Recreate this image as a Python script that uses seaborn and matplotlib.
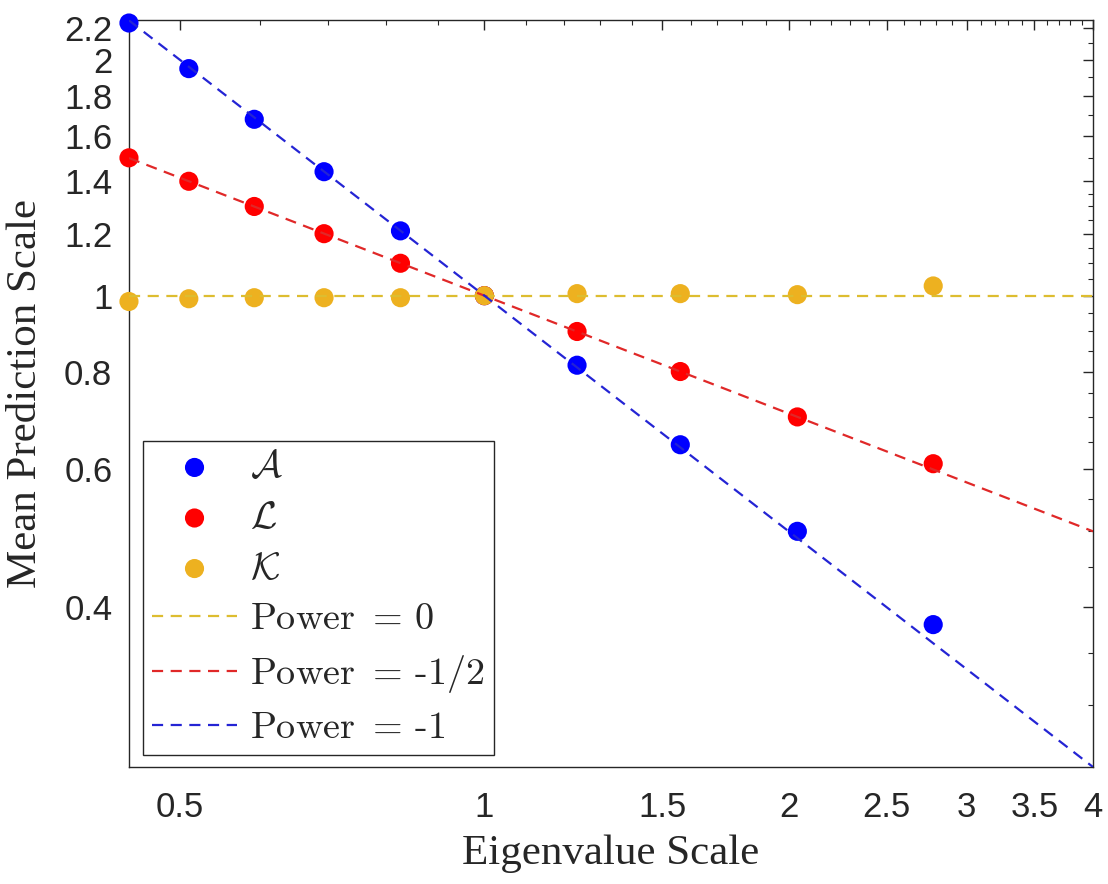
import numpy as np
import pandas as pd
import matplotlib
matplotlib.use("Agg")
import matplotlib.pyplot as plt
from matplotlib.ticker import FixedLocator, FixedFormatter, NullFormatter
import seaborn as sns

# ---- data ----
eig_scale = [0.445, 0.51, 0.592, 0.694, 0.826, 1.0, 1.235, 1.5625, 2.04, 2.78]
series_A = [2.23, 1.95, 1.68, 1.44, 1.21, 1.0, 0.815, 0.645, 0.50, 0.38]
series_L = [1.50, 1.40, 1.30, 1.20, 1.10, 1.0, 0.90, 0.80, 0.70, 0.61]
series_K = [0.983, 0.991, 0.994, 0.994, 0.994, 1.0, 1.006, 1.006, 1.003, 1.029]
series_labels = [r"$\mathcal{A}$", r"$\mathcal{L}$", r"$\mathcal{K}$"]

line_x = [0.445, 4.0]
powers = [0.0, -0.5, -1.0]
power_values = ["0", "-1/2", "-1"]

x_major = [0.5, 1, 1.5, 2, 2.5, 3, 3.5, 4]
x_major_labels = ["0.5", "1", "1.5", "2", "2.5", "3", "3.5", "4"]
y_major = [0.4, 0.6, 0.8, 1.0, 1.2, 1.4, 1.6, 1.8, 2.0, 2.2]
y_major_labels = ["0.4", "0.6", "0.8", "1", "1.2", "1.4", "1.6", "1.8", "2", "2.2"]

# ---- style ----
sns.set_theme(style="white")
plt.rcParams["font.family"] = ["Liberation Sans", "DejaVu Sans"]
plt.rcParams["mathtext.fontset"] = "cm"
plt.rcParams["axes.unicode_minus"] = False

marker_colors = ["#0000FF", "#FF0000", "#EDB120"]
line_colors = ["#DDBD30", "#E02828", "#2424D4"]
ink = "#262626"

fig = plt.figure(figsize=(11.08, 8.84), dpi=100)
ax = fig.add_axes([0.1164, 0.1324, 0.870, 0.845])

for ys, col, lab in zip([series_A, series_L, series_K], marker_colors, series_labels):
    df = pd.DataFrame({"x": eig_scale, "y": ys})
    sns.scatterplot(data=df, x="x", y="y", ax=ax, color=col, s=190,
                    edgecolor="none", linewidth=0, label=lab, zorder=3,
                    clip_on=False)

lx = np.array(line_x)
for p, col, val in zip(powers, line_colors, power_values):
    df = pd.DataFrame({"x": lx, "y": lx ** p})
    sns.lineplot(data=df, x="x", y="y", ax=ax, color=col, lw=1.6,
                 label=r"$\mathrm{Power}\ =\,$" + val, zorder=4)

for line in ax.get_lines():
    line.set_dashes((5.0, 3.4))

ax.set_xscale("log")
ax.set_yscale("log")
ax.set_xlim(line_x[0], line_x[1])
ax.set_ylim(0.25, 2.25)

ax.xaxis.set_major_locator(FixedLocator(x_major))
ax.xaxis.set_major_formatter(FixedFormatter(x_major_labels))
x_minor = [round(v, 1) for v in np.arange(0.5, 4.01, 0.1)
           if all(abs(v - m) > 1e-6 for m in x_major)]
ax.xaxis.set_minor_locator(FixedLocator(x_minor))
ax.xaxis.set_minor_formatter(NullFormatter())

ax.yaxis.set_major_locator(FixedLocator(y_major))
ax.yaxis.set_major_formatter(FixedFormatter(y_major_labels))
y_minor = [0.3, 0.35, 0.45, 0.5, 0.55, 0.65, 0.7, 0.75, 0.85, 0.9, 0.95,
           1.05, 1.1, 1.15, 1.25, 1.3, 1.35, 1.5, 1.7, 1.9, 2.1]
ax.yaxis.set_minor_locator(FixedLocator(y_minor))
ax.yaxis.set_minor_formatter(NullFormatter())

ax.tick_params(which="both", direction="in", top=True, right=True,
               colors=ink, labelcolor=ink)
ax.tick_params(which="major", length=7, width=1, labelsize=25)
ax.tick_params(axis="x", which="major", pad=17)
ax.tick_params(axis="y", which="major", pad=12)
ax.tick_params(which="minor", length=3.5, width=0.8)

for s in ax.spines.values():
    s.set_color(ink)
    s.set_linewidth(1.0)

ax.set_xlabel("Eigenvalue Scale", family=["Liberation Serif"], fontsize=31,
              color=ink, labelpad=8)
ax.set_ylabel("Mean Prediction Scale", family=["Liberation Serif"], fontsize=31,
              color=ink, labelpad=14)

handles, labels = ax.get_legend_handles_labels()
leg = ax.legend(handles, labels, loc="lower left", bbox_to_anchor=(0.0145, 0.016),
                borderaxespad=0, frameon=True, fancybox=False, framealpha=1,
                edgecolor=ink, prop={"family": ["cmr10", "DejaVu Serif"], "size": 27.5},
                handlelength=2.2, handletextpad=0.35, labelspacing=0.44,
                borderpad=0.25, markerscale=1.0)
leg.get_frame().set_linewidth(1.0)

fig.savefig("out.png", dpi=100)
